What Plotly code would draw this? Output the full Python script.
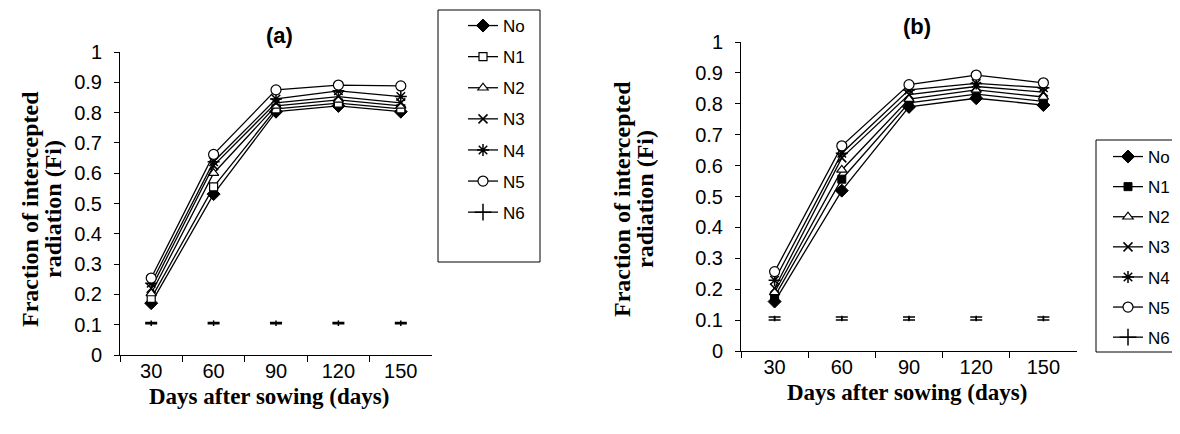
import plotly.graph_objects as go

days = ["30", "60", "90", "120", "150"]
series_names = ["No", "N1", "N2", "N3", "N4", "N5"]

# Panel (a)
a_No = [0.171, 0.531, 0.803, 0.822, 0.803]
a_N1 = [0.187, 0.555, 0.812, 0.831, 0.812]
a_N2 = [0.203, 0.600, 0.822, 0.842, 0.822]
a_N3 = [0.220, 0.625, 0.832, 0.853, 0.832]
a_N4 = [0.237, 0.638, 0.845, 0.872, 0.853]
a_N5 = [0.254, 0.662, 0.875, 0.891, 0.888]
a_N6 = [0.105, 0.105, 0.105, 0.105, 0.105]
a_N6_err = [0.002, 0.002, 0.002, 0.002, 0.002]

# Panel (b)
b_No = [0.160, 0.519, 0.790, 0.818, 0.796]
b_N1 = [0.176, 0.556, 0.803, 0.831, 0.808]
b_N2 = [0.190, 0.586, 0.815, 0.845, 0.822]
b_N3 = [0.203, 0.625, 0.830, 0.856, 0.838]
b_N4 = [0.229, 0.640, 0.845, 0.866, 0.852]
b_N5 = [0.257, 0.664, 0.862, 0.893, 0.868]
b_N6 = [0.105, 0.105, 0.105, 0.105, 0.105]
b_N6_err = [0.005, 0.005, 0.005, 0.005, 0.005]

# page body has an 8px margin; figure sized so it ends at the window edge
OFF = 8
W, H = 1180 - OFF, 434 - OFF
def px(x): return (x - OFF) / W
def py(y): return 1 - (y - OFF) / H

FONT = "Arial, Liberation Sans, sans-serif"
SERIF = "Times New Roman, Liberation Serif, serif"

def marker_style(name, panel):
    if name == "No":
        return dict(symbol="diamond", size=10, color="black", line=dict(color="black", width=1))
    if name == "N1":
        if panel == "a":
            return dict(symbol="square", size=8, color="white", line=dict(color="black", width=1.2))
        return dict(symbol="square", size=8, color="black", line=dict(color="black", width=1))
    if name == "N2":
        return dict(symbol="triangle-up", size=9, color="white", line=dict(color="black", width=1.2))
    if name == "N3":
        return dict(symbol="x-thin-open", size=9, color="black", line=dict(color="black", width=1.5))
    if name == "N4":
        return dict(symbol="asterisk-open", size=10, color="black", line=dict(color="black", width=1.5))
    if name == "N5":
        return dict(symbol="circle", size=10, color="white", line=dict(color="black", width=1.2))

fig = go.Figure()

panels = [
    ("a", "x", "y", "legend", [a_No, a_N1, a_N2, a_N3, a_N4, a_N5], a_N6, a_N6_err),
    ("b", "x2", "y2", "legend2", [b_No, b_N1, b_N2, b_N3, b_N4, b_N5], b_N6, b_N6_err),
]

for panel, xa, ya, leg, vals, n6, n6err in panels:
    for name, v in zip(series_names, vals):
        fig.add_trace(go.Scatter(
            x=days, y=v, name=name, mode="lines+markers",
            line=dict(color="black", width=1.3),
            marker=marker_style(name, panel),
            xaxis=xa, yaxis=ya, legend=leg, legendgroup=panel + name,
        ))
    # N6 points (no connecting line)
    fig.add_trace(go.Scatter(
        x=days, y=n6, name="N6", mode="markers",
        marker=dict(symbol="line-ns-open", size=4, color="black", line=dict(color="black", width=1.5)),
        error_y=dict(type="data", array=n6err, visible=True, color="black", thickness=1.5, width=6),
        xaxis=xa, yaxis=ya, showlegend=False, legend=leg, legendgroup=panel + "N6",
    ))
    # legend entry for N6
    fig.add_trace(go.Scatter(
        x=[None], y=[None], name="N6", mode="lines+markers",
        line=dict(color="black", width=1.3),
        marker=dict(symbol="cross-thin-open", size=12, color="black", line=dict(color="black", width=1.5)),
        xaxis=xa, yaxis=ya, legend=leg, legendgroup=panel + "N6",
    ))

axis_common_x = dict(
    type="category", range=[-0.5, 4.5], showline=True, linecolor="black", linewidth=1,
    ticks="outside", ticklen=6, tickcolor="black", tickson="boundaries",
    showgrid=False, zeroline=False, tickfont=dict(family=FONT, size=20, color="black"),
    fixedrange=True, ticklabelstandoff=-2,
)
axis_common_y = dict(
    range=[0, 1], dtick=0.1, tick0=0, showline=True, linecolor="black", linewidth=1,
    ticks="outside", ticklen=5, tickcolor="black", showgrid=False, zeroline=False,
    tickfont=dict(family=FONT, size=20, color="black"), fixedrange=True,
    ticklabelstandoff=8,
)

def ann(text, x, y, size, family, angle=0):
    return dict(text=text, x=px(x), y=py(y), xref="paper", yref="paper", showarrow=False,
                xanchor="center", yanchor="middle", textangle=angle,
                font=dict(family=family, size=size, color="black"))

legend_common = dict(xanchor="left", yanchor="top", bgcolor="rgba(0,0,0,0)", borderwidth=0,
                     font=dict(family=FONT, size=17, color="black"),
                     traceorder="grouped", itemclick=False, itemdoubleclick=False,
                     maxheight=420)

fig.update_layout(
    width=W, height=H, template="none",
    paper_bgcolor="white", plot_bgcolor="white",
    margin=dict(l=0, r=0, t=0, b=0, autoexpand=False),
    font=dict(family=FONT, color="black"),
    xaxis=dict(domain=[px(120), px(432)], anchor="y", **axis_common_x),
    yaxis=dict(domain=[py(355), py(52)], anchor="x", **axis_common_y),
    xaxis2=dict(domain=[px(741), px(1077)], anchor="y2", **axis_common_x),
    yaxis2=dict(domain=[py(351), py(42)], anchor="x2", **axis_common_y),
    legend=dict(x=px(463), y=py(8), tracegroupgap=6, **legend_common),
    legend2=dict(x=px(1108), y=py(139), tracegroupgap=5, **legend_common),
    shapes=[
        dict(type="rect", xref="paper", yref="paper", x0=px(438), x1=px(540), y0=py(262), y1=py(10),
             line=dict(color="black", width=1), fillcolor="rgba(0,0,0,0)", layer="below"),
        dict(type="rect", xref="paper", yref="paper", x0=px(1096), x1=px(1200), y0=py(352), y1=py(140),
             line=dict(color="black", width=1), fillcolor="rgba(0,0,0,0)", layer="below"),
    ],
    annotations=[
        ann("<b>(a)</b>", 279, 35, 22, FONT),
        ann("<b>(b)</b>", 917, 27, 22, FONT),
        ann("<b>Days after sowing (days)</b>", 269, 396, 23, SERIF),
        ann("<b>Days after sowing (days)</b>", 907, 392, 23, SERIF),
        ann("<b>Fraction of intercepted</b>", 30, 209, 24, SERIF, -90),
        ann("<b>radiation (Fi)</b>", 53, 209, 24, SERIF, -90),
        ann("<b>Fraction of intercepted</b>", 622, 199, 24, SERIF, -90),
        ann("<b>radiation (Fi)</b>", 645, 199, 24, SERIF, -90),
    ],
)

fig.write_html("out.html")
